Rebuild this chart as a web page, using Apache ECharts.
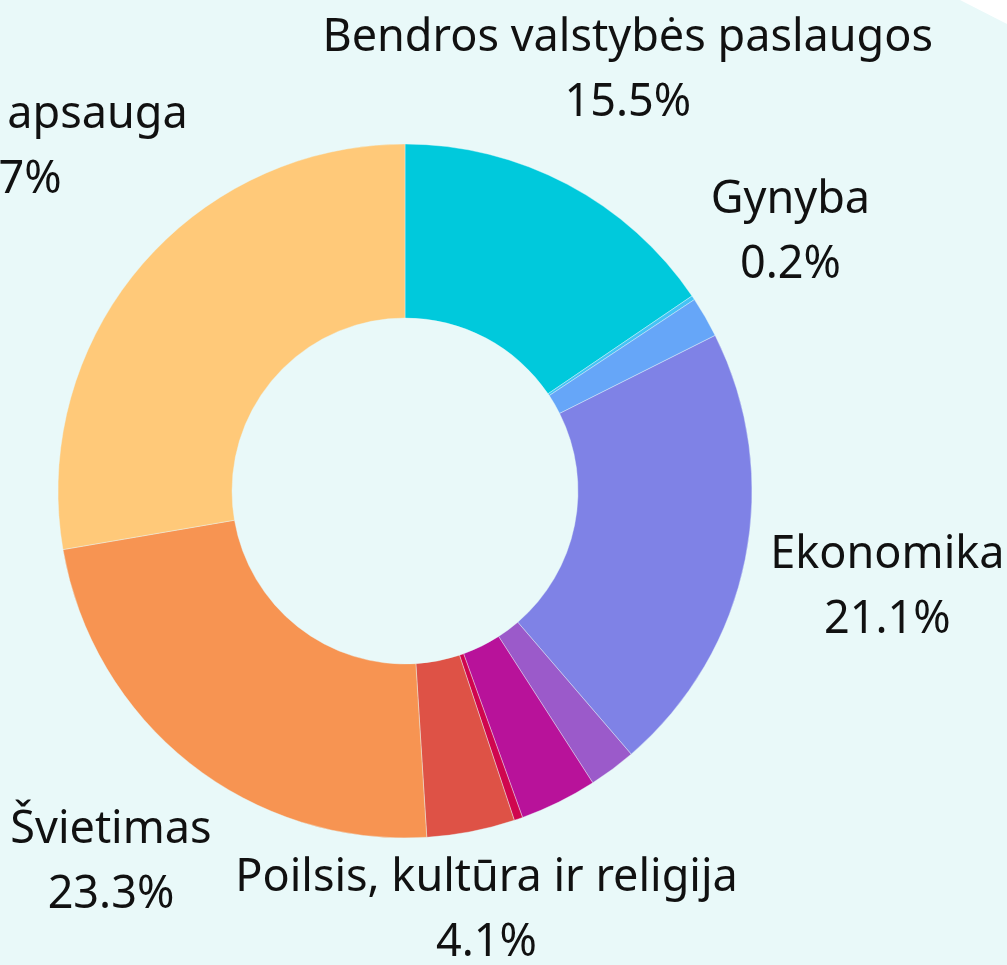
<!DOCTYPE html>
<html>
<head>
<meta charset="utf-8">
<script src="https://cdn.jsdelivr.net/npm/echarts@6/dist/echarts.min.js"></script>
<style>
  html, body { margin: 0; padding: 0; background: #e9f9f9; }
  #chart { width: 1007px; height: 965px; }
</style>
</head>
<body>
<div id="chart"></div>
<script>
  // budget structure, % of total
  const categories = [
    'Bendros valstybės paslaugos',
    'Gynyba',
    'Viešoji tvarka ir visuomenės apsauga',
    'Ekonomika',
    'Aplinkos apsauga',
    'Būstas ir komunalinis ūkis',
    'Sveikatos apsauga',
    'Poilsis, kultūra ir religija',
    'Švietimas',
    'Socialinė apsauga'
  ];
  const shares = [15.5, 0.2, 1.9, 21.1, 2.2, 3.6, 0.4, 4.1, 23.3, 27.7];
  const colors = ['#00c9dc', '#45c3f5', '#66a6f8', '#7f82e6', '#9b5aca',
                  '#b8129a', '#d0064e', '#de5246', '#f79452', '#ffc979'];
  // which slices carry a label
  const labelled = ['Bendros valstybės paslaugos', 'Gynyba', 'Ekonomika',
                    'Poilsis, kultūra ir religija', 'Švietimas', 'Socialinė apsauga'];

  const cx = 405, cy = 491;
  // how far from the centre each label sits
  const labelDist = {
    'Bendros valstybės paslaugos': 476,
    'Gynyba': 464,
    'Ekonomika': 492,
    'Poilsis, kultūra ir religija': 428,
    'Švietimas': 474,
    'Socialinė apsauga': 532
  };

  const total = shares.reduce((a, b) => a + b, 0);
  function midAngle(i) {
    let before = 0;
    for (let k = 0; k < i; k++) before += shares[k];
    return (before + shares[i] / 2) / total * Math.PI * 2;
  }

  const chart = echarts.init(document.getElementById('chart'));
  const option = {
    backgroundColor: '#e9f9f9',
    animation: false,
    graphic: [{
      type: 'polygon',
      shape: { points: [[960, 0], [1007, 0], [1007, 24]] },
      style: { fill: '#ffffff' }
    }],
    series: [{
      type: 'pie',
      center: [cx, cy],
      radius: [173, 347],
      startAngle: 90,
      clockwise: true,
      avoidLabelOverlap: false,
      itemStyle: { borderColor: '#e9f9f9', borderWidth: 0.4 },
      label: {
        position: 'outside',
        fontFamily: 'Noto Sans',
        fontSize: 45,
        lineHeight: 65,
        color: '#111111',
        align: 'center',
        formatter: p => p.name + '\n' + p.value.toFixed(1) + '%'
      },
      labelLine: { show: false },
      labelLayout: function (p) {
        const a = midAngle(p.dataIndex);
        const d = labelDist[categories[p.dataIndex]] || 480;
        return {
          x: cx + d * Math.sin(a),
          y: cy - d * Math.cos(a),
          align: 'center',
          verticalAlign: 'middle'
        };
      },
      data: categories.map((name, i) => ({
        name: name,
        value: shares[i],
        itemStyle: { color: colors[i] },
        label: { show: labelled.indexOf(name) >= 0 }
      }))
    }]
  };
  chart.setOption(option);
</script>
</body>
</html>
